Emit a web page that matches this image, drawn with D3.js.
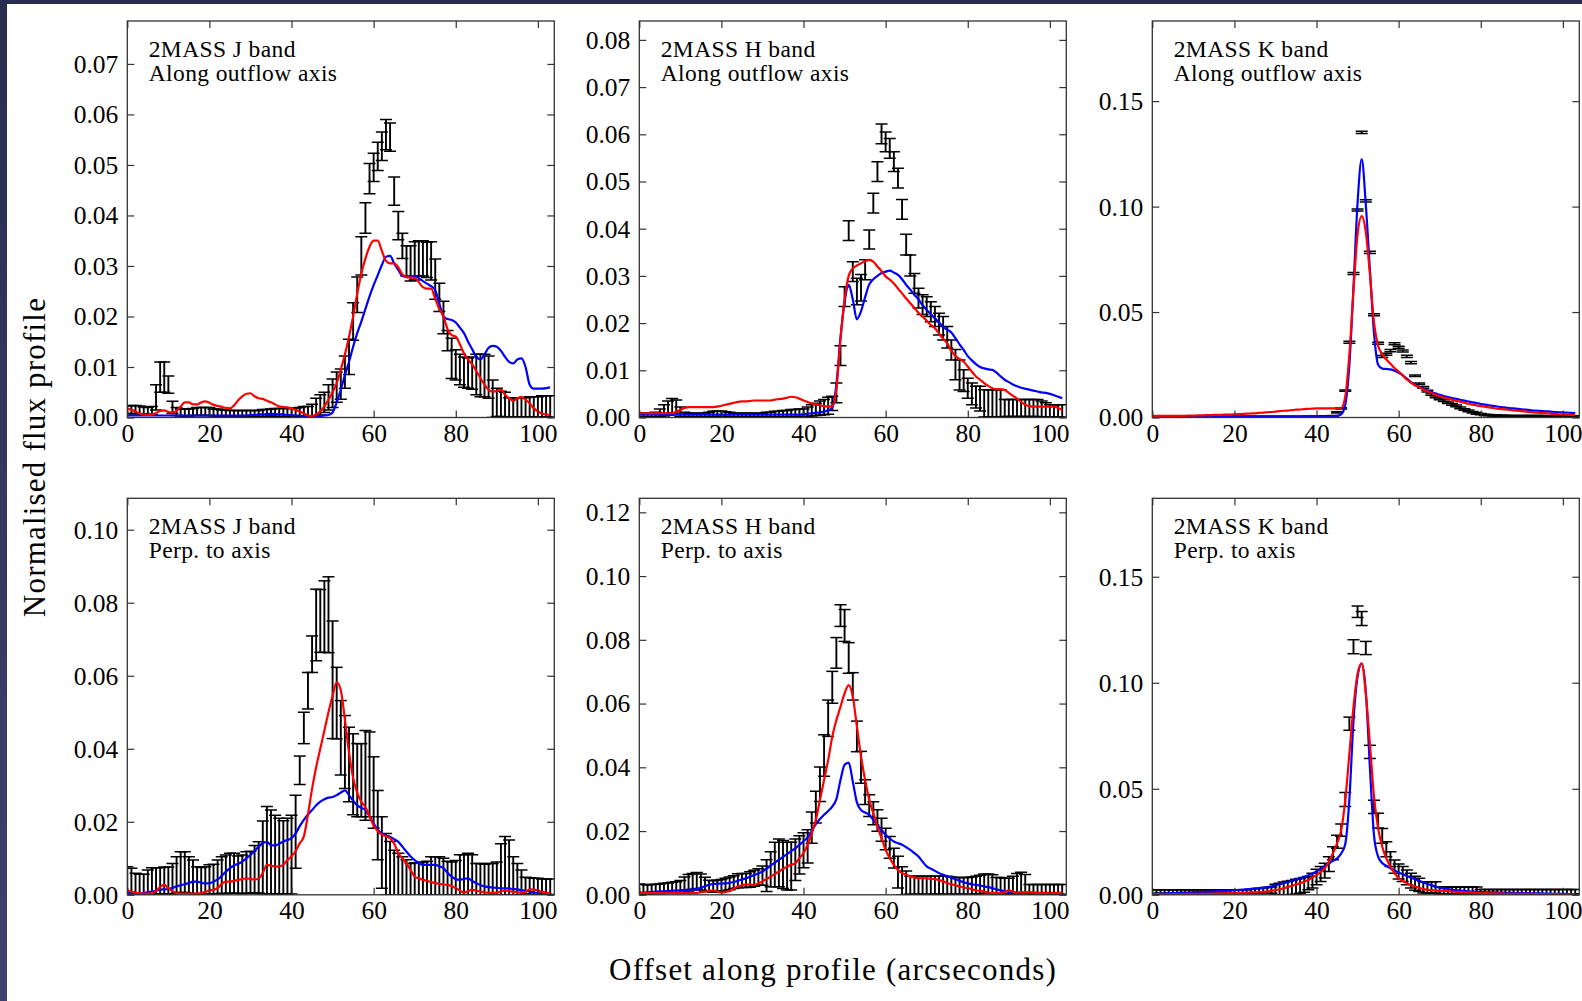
<!DOCTYPE html>
<html>
<head>
<meta charset="utf-8">
<script src="https://cdn.jsdelivr.net/npm/d3@7"></script>
<style>
body { margin: 0; background: #fff; }
svg text { font-family: "Liberation Serif", "Times New Roman", serif; fill: #000; }
.ticklab text { font-size: 25.5px; }
.ptext { font-size: 23.5px; letter-spacing: 0.4px; }
.atitle { font-size: 31px; letter-spacing: 1.2px; }
</style>
</head>
<body>
<div id="chart"></div>
<script>
//offsets along the profile (arcsec), one per measured pixel
var offsets = [0,1,2,3,4,5,6,7,8,9,10,11,12,13,14,15,16,17,18,19,20,21,22,23,24,25,26,27,28,29,
30,31,32,33,34,35,36,37,38,39,40,41,42,43,44,45,46,47,48,49,50,51,52,53,54,55,56,57,58,59,
60,61,62,63,64,65,66,67,68,69,70,71,72,73,74,75,76,77,78,79,80,81,82,83,84,85,86,87,88,89,
90,91,92,93,94,95,96,97,98,99,100,101,102,103];

//all flux values below are in units of 1e-4

//J band, along outflow axis
var jAlongVal = [15,16,16,15,14,13,14,40,80,80, 65,20,12,10,10,10,11,12,12,12, 12,10,10,9,9,8,8,8,8,8,
8,8,8,9,9,10,10,10,10,10, 10,11,11,12,12,14,20,25,30,40, 48,60,66,90,120,190,243,320,395,473,
495,517,537,560,555,448,380,340,310,305, 310,315,315,312,310,274,238,198,152,117, 104,95,90,88,88,85,83,83,80,37,
30,27,25,20,20,20,20,20,21,21, 21,22,22,22];
var jAlongErr = [8,8,8,8,7,7,8,25,30,30, 17,12,8,7,7,7,7,8,8,8, 8,7,7,6,6,6,6,6,6,6,
6,6,6,7,7,7,8,8,8,8, 8,8,9,10,10,12,18,20,20,25, 28,30,30,32,35,37,35,38,30,30,
28,28,28,30,28,28,28,25,30,35, 38,35,35,35,38,40,28,32,20,40, 30,30,30,30,32,40,42,42,42,37,
28,25,25,19,19,19,19,19,20,20, 20,21,21,21];
var jAlongBlue = [4,4,4,4,4,4,4,4,4,4, 4,4,4,4,4,4,4,4,4,4, 4,4,4,4,4,4,4,4,4,4,
5,5,6,6,7,7,7,6,6,5, 5,4,4,3,3,3,3,3,4,5, 10,30,55,84,110,140,167,190,215,240,
262,282,302,318,320,305,292,280,278,279, 280,276,270,265,260,252,225,200,195,193, 188,178,167,150,135,120,115,125,138,142,
140,132,120,110,107,115,117,100,65,57, 57,57,58,60];
var jAlongRed = [18,15,12,8,6,5,6,9,13,14, 11,10,13,22,30,30,26,26,30,32, 29,25,23,21,19,18,24,34,42,47,
48,42,38,37,33,30,26,22,21,20, 18,15,12,8,4,3,6,12,22,35, 50,68,95,125,160,200,245,285,315,338,
350,350,330,310,305,305,297,283,278,277, 276,268,258,255,255,235,215,200,175,163, 160,145,127,115,105,92,78,65,55,51,
53,55,45,38,33,38,41,35,28,18, 12,8,6,5];

//H band, along outflow axis
var hAlongVal = [5,5,5,5,6,10,15,20,25,22, 12,6,5,5,5,5,5,6,7,8, 8,7,6,5,5,5,5,5,5,5,
5,6,6,7,7,8,8,9,9,10, 10,12,15,17,20,22,25,30,52,131, 256,396,309,267,275,313,377,454,521,601,
584,570,542,507,441,366,322,284,253,239, 235,224,214,198,189,170,143,112,90,78, 62,50,43,40,30,30,30,30,30,20,
20,20,20,20,20,20,20,20,18,16, 14,14,14,14];
var hAlongErr = [4,4,4,4,5,8,12,15,15,15, 10,5,4,4,4,4,4,5,6,6, 6,5,5,4,4,4,4,4,4,4,
4,5,5,6,6,7,7,8,8,8, 8,10,12,13,15,16,18,15,21,21, 21,21,21,28,28,21,20,21,21,21,
21,21,21,21,21,22,22,21,21,21, 21,21,21,23,25,23,21,32,32,23, 21,23,23,26,29,29,29,29,29,18,
18,18,18,18,18,18,18,18,17,15, 13,13,13,13];
var hAlongBlue = [6,6,6,6,6,6,6,6,6,6, 6,6,6,6,6,6,6,6,6,6, 6,6,6,6,6,6,6,6,6,6,
6,6,6,6,6,6,6,6,6,6, 7,8,9,10,11,13,15,20,70,170, 245,281,250,208,225,255,282,293,300,306,
309,311,307,302,293,281,271,260,250,238, 228,219,210,201,192,186,180,168,155,143, 130,121,113,107,104,102,101,95,87,80,
75,70,66,63,61,59,57,55,53,52, 50,47,44,41];
var hAlongRed = [9,9,9,9,9,9,9,9,9,12, 16,20,22,22,22,22,22,22,22,23, 25,27,29,31,33,34,34,35,36,36,
36,36,36,38,39,40,42,44,43,40, 36,33,30,28,26,24,23,24,60,165, 250,300,316,322,327,331,334,330,320,310,
299,292,284,273,263,252,242,232,222,214, 205,196,189,178,167,157,142,130,124,118, 108,97,87,80,73,67,62,60,60,58,
52,46,40,33,27,24,23,23,23,23, 23,23,20,16];

//K band, along outflow axis
var kAlongVal = [3,3,3,3,3,3,3,3,3,3, 3,3,3,3,3,3,3,3,3,3, 3,3,3,3,3,3,3,3,3,3,
3,3,3,3,3,3,3,3,4,4, 4,5,5,6,8,24,43,127,357,683, 984,1352,1027,783,487,352,289,300,317,350,
333,315,290,260,198,160,143,125,110,98, 88,80,70,62,55,46,38,31,25,20, 16,13,11,10,9,8,8,7,7,7,
6,6,6,6,6,6,5,5,5,5, 5,5,5,5];
var kAlongErr = [2,2,2,2,2,2,2,2,2,2, 2,2,2,2,2,2,2,2,2,2, 2,2,2,2,2,2,2,2,2,2,
2,2,2,2,2,2,2,2,2,2, 2,2,2,2,2,3,3,3,5,5, 5,5,5,5,5,5,5,5,5,5,
5,5,5,5,4,4,4,4,4,4, 4,4,4,4,4,4,4,4,4,4, 3,3,3,3,3,3,3,3,3,3,
3,3,3,3,3,3,3,3,3,3, 3,3,3,3];
var kAlongBlue = [5,5,5,5,5,5,5,5,5,5, 5,5,5,5,5,5,5,5,5,5, 5,5,5,5,5,5,5,5,5,5,
5,5,5,5,5,5,5,5,5,5, 5,5,5,6,6,8,15,60,250,620, 1020,1225,1010,700,400,250,232,230,228,222,
212,200,185,168,155,145,136,128,120,113, 107,102,97,92,88,84,80,76,72,68, 64,61,58,55,52,49,47,45,43,41,
39,37,35,33,32,30,29,28,26,25, 24,23,22,21];
var kAlongRed = [8,8,8,8,8,8,8,8,8,9, 9,10,10,11,11,12,12,13,14,14, 15,16,17,18,19,20,22,23,25,26,
28,30,32,33,35,37,38,40,41,42, 43,43,43,43,43,43,45,100,300,600, 870,955,880,680,450,340,300,275,255,235,
218,200,180,165,152,143,133,124,116,107, 100,95,90,84,79,75,70,65,61,57, 54,51,48,45,42,40,38,36,34,32,
30,28,26,24,23,21,20,18,17,15, 14,13,12,11];

//J band, perpendicular to axis
var jPerpVal = [40,38,31,29,29,35,38,38,38,39, 39,44,54,62,62,54,49,40,39,40, 42,43,49,54,56,59,59,55,56,61,
62,70,75,102,122,117,110,106,103,106, 110,173,341,457,559,659,739,750,762,767, 589,525,430,391,357,330,314,314,327,330,
280,191,116,84,73,61,57,52,48,43, 44,44,45,46,52,52,52,50,46,45, 47,55,55,57,55,43,43,42,43,43,
45,70,80,75,52,43,34,25,24,23, 23,22,22,22];
var jPerpErr = [37,35,28,27,27,33,36,36,36,37, 37,42,50,56,56,50,46,37,36,37, 40,41,46,50,53,55,55,51,53,57,
57,65,70,100,120,115,108,104,100,104, 108,100,39,43,50,50,98,86,98,104, 161,98,102,100,102,111,100,100,123,116,
98,95,98,84,73,61,57,52,48,43, 44,44,45,46,52,52,52,50,46,45, 47,55,55,57,55,43,43,42,43,43,
45,70,80,75,52,43,34,23,23,22, 22,21,21,21];
var jPerpBlue = [6,4,3,3,5,7,9,11,14,15, 16,19,23,26,29,32,36,36,33,31, 32,36,42,52,63,73,80,85,91,100,
109,120,132,141,145,136,135,140,146,150, 155,168,188,205,220,232,245,255,262,266, 268,273,280,286,273,258,245,238,232,215,
195,178,168,162,159,152,145,132,118,105, 95,87,82,82,82,82,78,73,60,50, 43,41,44,45,38,32,27,23,21,20,
19,18,18,17,16,15,13,11,9,7, 5,4,3,2];
var jPerpRed = [12,9,6,4,3,3,5,10,22,27, 18,10,5,3,3,3,3,4,5,8, 12,14,18,30,36,36,38,41,43,45,
43,42,45,60,82,80,77,78,82,95, 105,120,141,160,220,290,350,400,450,500, 545,582,560,480,390,320,280,255,240,215,
190,175,165,160,155,140,114,100,86,68, 50,45,41,38,35,32,30,28,27,24, 18,12,6,10,14,11,9,7,5,5,
6,9,12,10,8,7,6,8,15,14, 12,8,6,5];

//H band, perpendicular to axis
var hPerpVal = [17,16,16,17,18,19,20,21,22,23, 25,32,38,42,45,40,33,28,26,28, 30,32,36,40,44,45,45,48,52,56,
60,60,80,95,100,95,90,90,110,125, 140,152,211,275,347,437,554,651,759,876, 845,743,654,497,400,322,280,256,233,204,
175,149,115,71,44,38,30,30,30,30, 30,30,30,30,30,30,29,28,28,28, 28,29,30,32,35,35,33,28,28,27,
27,30,35,38,34,17,17,17,17,17, 17,17,17,17];
var hPerpErr = [17,16,15,15,15,15,16,16,17,18, 20,24,26,25,25,25,22,18,18,18, 18,20,20,20,22,22,22,24,25,26,
30,50,55,70,75,75,75,75,65,60, 55,52,49,50,54,65,57,50,48,34, 50,48,43,48,50,39,34,36,34,36,
34,34,31,50,44,37,28,28,28,28, 28,28,28,28,28,28,27,26,26,26, 26,27,28,29,30,30,30,26,26,25,
25,28,32,33,30,15,15,15,15,15, 15,15,15,15];
var hPerpBlue = [7,7,8,9,10,11,11,12,13,13, 14,15,16,17,18,22,27,31,34,35, 35,36,37,40,44,48,52,57,62,67,
73,82,92,101,110,119,128,137,146,157, 168,180,200,222,238,251,263,277,300,360, 408,415,355,290,266,258,251,235,219,203,
188,177,167,162,157,149,141,131,120,104, 89,82,75,68,63,58,54,49,44,39, 36,33,31,29,26,24,21,17,14,11,
9,7,6,6,6,6,6,6,6,6, 6,6,6,6];
var hPerpRed = [5,5,5,5,5,5,5,5,5,5, 5,5,5,5,6,8,10,12,14,10, 7,9,12,20,26,30,33,32,31,36,
42,50,57,65,73,81,89,94,99,115, 131,157,193,235,298,360,423,496,548,590, 632,658,622,528,434,360,298,256,214,178,
141,115,94,78,68,63,57,55,52,52, 52,50,49,46,42,37,33,30,26,23, 21,17,14,12,10,7,5,5,5,9,
14,10,7,8,8,8,7,6,5,5, 5,5,5,5];

//K band, perpendicular to axis
var kPerpVal = [15,15,15,15,15,15,15,15,15,15, 15,15,15,15,15,15,15,15,15,15, 15,15,15,15,16,17,18,19,20,22,
25,27,30,32,35,38,42,47,55,67, 84,98,114,145,196,250,305,450,807,1170, 1335,1303,1164,674,415,350,278,215,168,133,
110,98,82,67,54,47,35,35,35,35, 20,20,20,20,20,20,20,20,20,20, 15,15,15,15,15,15,15,15,15,15,
15,15,15,15,15,15,15,15,15,15, 15,15,15,15];
var kPerpErr = [9,9,9,9,9,9,9,9,9,9, 9,9,9,9,9,9,9,9,9,9, 9,9,9,9,10,11,12,13,14,15,
25,27,30,32,33,35,35,35,31,35, 37,35,35,35,31,31,29,33,31,33, 27,33,31,31,31,35,35,35,35,31,
35,35,35,35,33,31,27,27,27,27, 17,17,17,17,17,17,17,17,17,17, 10,10,10,10,10,10,10,10,10,10,
10,10,10,10,10,10,10,10,10,10, 10,10,10,10];
var kPerpBlue = [5,5,6,6,7,8,9,10,10,11, 12,13,13,14,15,16,17,18,19,20, 22,23,24,26,28,30,32,34,36,40,
45,50,55,60,66,72,78,85,92,100, 110,122,135,149,160,172,195,240,450,820, 1030,1090,960,600,280,180,150,137,125,115,
105,97,89,81,74,66,58,51,45,39, 33,30,27,24,22,20,18,16,15,14, 13,12,12,11,11,10,10,9,9,8,
8,8,7,7,7,6,6,5,5,5, 4,4,3,3];
var kPerpRed = [2,2,2,2,3,3,3,3,4,4, 4,4,5,5,5,6,6,7,7,8, 8,9,9,10,11,12,13,14,16,19,
22,26,31,36,42,48,55,62,70,82, 94,108,125,155,196,243,305,447,666,886, 1042,1092,948,713,462,313,227,172,133,102,
78,65,55,46,39,33,27,24,22,20, 19,18,17,15,14,13,12,11,10,9, 8,8,7,7,6,6,5,5,5,4,
4,4,4,4,3,3,3,3,3,3, 2,2,2,2];

//tick values
var xTicks = [0, 20, 40, 60, 80, 100];
var yTicksJAlong = [0, 0.01, 0.02, 0.03, 0.04, 0.05, 0.06, 0.07];
var yTicksHAlong = [0, 0.01, 0.02, 0.03, 0.04, 0.05, 0.06, 0.07, 0.08];
var yTicksK = [0, 0.05, 0.10, 0.15];
var yTicksJPerp = [0, 0.02, 0.04, 0.06, 0.08, 0.10];
var yTicksHPerp = [0, 0.02, 0.04, 0.06, 0.08, 0.10, 0.12];

//panels in reading order
var panels = [
  {band: "2MASS J band", dir: "Along outflow axis", val: jAlongVal, err: jAlongErr, blue: jAlongBlue, red: jAlongRed, ymax: 0.0785, ticks: yTicksJAlong},
  {band: "2MASS H band", dir: "Along outflow axis", val: hAlongVal, err: hAlongErr, blue: hAlongBlue, red: hAlongRed, ymax: 0.0840, ticks: yTicksHAlong},
  {band: "2MASS K band", dir: "Along outflow axis", val: kAlongVal, err: kAlongErr, blue: kAlongBlue, red: kAlongRed, ymax: 0.188, ticks: yTicksK},
  {band: "2MASS J band", dir: "Perp. to axis", val: jPerpVal, err: jPerpErr, blue: jPerpBlue, red: jPerpRed, ymax: 0.1086, ticks: yTicksJPerp},
  {band: "2MASS H band", dir: "Perp. to axis", val: hPerpVal, err: hPerpErr, blue: hPerpBlue, red: hPerpRed, ymax: 0.1244, ticks: yTicksHPerp},
  {band: "2MASS K band", dir: "Perp. to axis", val: kPerpVal, err: kPerpErr, blue: kPerpBlue, red: kPerpRed, ymax: 0.187, ticks: yTicksK}
];

//layout
var W = 1582, H = 1001;
var colLeft = [127.3, 639.3, 1152.3],
rowTop = [21, 498.3],
pw = 427,
ph = 396.5;
var unit = 1e-4, capHalf = 6, tickLen = 7;

var svg = d3.select("#chart")
.append("svg")
.attr("width", W)
.attr("height", H);

//slide background with dark edges
var defs = svg.append("defs");
var grad = defs.append("linearGradient").attr("id", "edge").attr("x1", 0).attr("y1", 0).attr("x2", 0).attr("y2", 1);
grad.append("stop").attr("offset", "0%").attr("stop-color", "#2a2d50");
grad.append("stop").attr("offset", "100%").attr("stop-color", "#3d416e");

svg.append("rect").attr("width", W).attr("height", H).attr("fill", "#fff");
svg.append("rect").attr("width", W).attr("height", 4).attr("fill", "#2a2d4f");
svg.append("rect").attr("width", 7).attr("height", H).attr("fill", "url(#edge)");

panels.forEach(function(p, k) {
  var col = k % 3, row = Math.floor(k / 3);
  var g = svg.append("g")
  .attr("transform", "translate(" + colLeft[col] + "," + rowTop[row] + ")");

  var x = d3.scaleLinear().domain([0, 104]).range([0, pw]);
  var y = d3.scaleLinear().domain([0, p.ymax]).range([ph, 0]);

  //clip marks to the axes box
  defs.append("clipPath").attr("id", "clip" + k)
  .append("rect").attr("width", pw).attr("height", ph);
  var plot = g.append("g").attr("clip-path", "url(#clip" + k + ")");

  var pts = offsets.map(function(o, i) {
    return {x: o, v: p.val[i] * unit, e: p.err[i] * unit, b: p.blue[i] * unit, r: p.red[i] * unit};
  });

  //error bars
  var bars = plot.selectAll(".eb").data(pts).enter().append("g").attr("class", "eb");
  bars.append("line")
  .attr("x1", function(d) { return x(d.x); })
  .attr("x2", function(d) { return x(d.x); })
  .attr("y1", function(d) { return y(d.v - d.e); })
  .attr("y2", function(d) { return y(d.v + d.e); })
  .attr("stroke", "#000").attr("stroke-width", 1.9);
  [-1, 1].forEach(function(s) {
    bars.append("line")
    .attr("x1", function(d) { return x(d.x) - capHalf; })
    .attr("x2", function(d) { return x(d.x) + capHalf; })
    .attr("y1", function(d) { return y(d.v + s * d.e); })
    .attr("y2", function(d) { return y(d.v + s * d.e); })
    .attr("stroke", "#000").attr("stroke-width", 1.5);
  });

  //model profiles
  var lineB = d3.line().x(function(d) { return x(d.x); }).y(function(d) { return y(d.b); }).curve(d3.curveMonotoneX);
  var lineR = d3.line().x(function(d) { return x(d.x); }).y(function(d) { return y(d.r); }).curve(d3.curveMonotoneX);
  plot.append("path").attr("d", lineB(pts)).attr("fill", "none").attr("stroke", "#0000ff").attr("stroke-width", 2.2);
  plot.append("path").attr("d", lineR(pts)).attr("fill", "none").attr("stroke", "#ff0000").attr("stroke-width", 2.2);

  //axes, ticks pointing inwards
  var ax = g.append("g").attr("class", "ticklab").attr("transform", "translate(0," + ph + ")")
  .call(d3.axisBottom(x).tickValues(xTicks).tickSize(-tickLen).tickPadding(6.5).tickFormat(d3.format("d")));
  var at = g.append("g")
  .call(d3.axisTop(x).tickValues(xTicks).tickSize(-tickLen).tickFormat(""));
  var ay = g.append("g").attr("class", "ticklab")
  .call(d3.axisLeft(y).tickValues(p.ticks).tickSize(-tickLen).tickPadding(9).tickFormat(d3.format(".2f")));
  var ar = g.append("g").attr("transform", "translate(" + pw + ",0)")
  .call(d3.axisRight(y).tickValues(p.ticks).tickSize(-tickLen).tickFormat(""));
  [ax, at, ay, ar].forEach(function(a) {
    a.attr("font-family", null).attr("font-size", null);
    a.select(".domain").remove();
    a.selectAll(".tick line").attr("stroke", "#333").attr("stroke-width", 1.2);
  });
  ay.selectAll(".tick text").attr("dy", "0.33em");

  //frame
  g.append("rect").attr("width", pw).attr("height", ph)
  .attr("fill", "none").attr("stroke", "#333").attr("stroke-width", 1.3);

  //panel label
  g.append("text").attr("class", "ptext").attr("x", 21.4).attr("y", 36).text(p.band);
  g.append("text").attr("class", "ptext").attr("x", 21.4).attr("y", 59.5).text(p.dir);
});

//shared axis titles
svg.append("text").attr("class", "atitle")
.attr("text-anchor", "middle")
.attr("transform", "translate(45,457) rotate(-90)")
.text("Normalised flux profile");
svg.append("text").attr("class", "atitle")
.attr("text-anchor", "middle")
.attr("x", 833).attr("y", 980)
.text("Offset along profile (arcseconds)");
</script>
</body>
</html>
